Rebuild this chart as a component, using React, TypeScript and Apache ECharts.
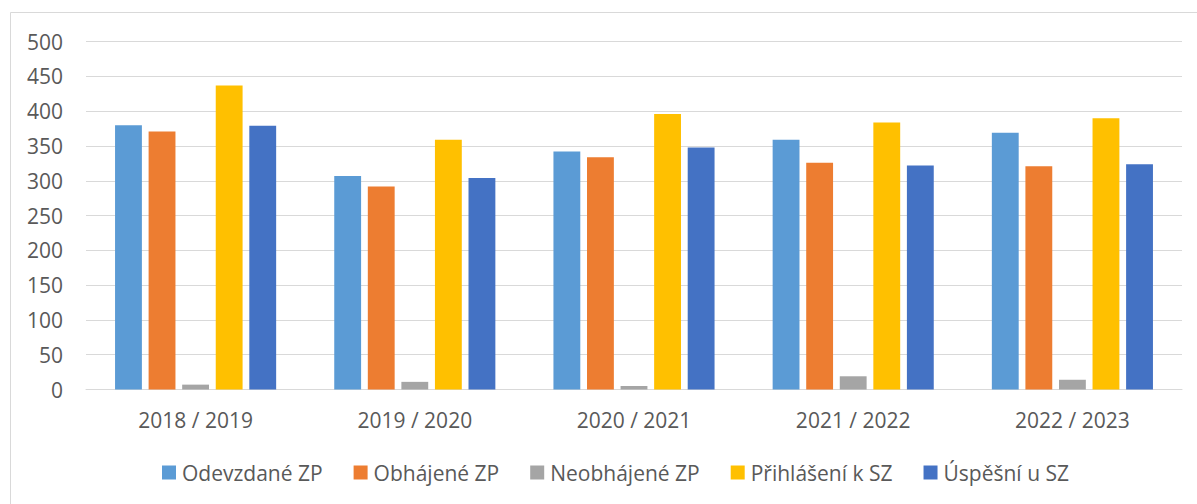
import React, { useEffect, useRef } from "react";
import * as echarts from "echarts";

const categories = ["2018 / 2019", "2019 / 2020", "2020 / 2021", "2021 / 2022", "2022 / 2023"];
const seriesNames = ["Odevzdané ZP", "Obhájené ZP", "Neobhájené ZP", "Přihlášení k SZ", "Úspěšní u SZ"];
const odevzdane = [380, 307, 342, 359, 369];
const obhajene = [371, 292, 334, 326, 321];
const neobhajene = [7, 11, 5, 19, 14];
const prihlaseni = [437, 359, 396, 384, 390];
const uspesni = [379, 304, 348, 322, 324];
const colors = ["#5B9BD5", "#ED7D31", "#A5A5A5", "#FFC000", "#4472C4"];

const FONT = "Open Sans";
const TEXT = "#595959";

export default function App() {
  const ref = useRef<HTMLDivElement>(null);
  useEffect(() => {
    if (!ref.current) return;
    const chart = echarts.init(ref.current, null, { renderer: "svg" });
    const data = [odevzdane, obhajene, neobhajene, prihlaseni, uspesni];
    chart.setOption({
      animation: false,
      backgroundColor: "#ffffff",
      graphic: [
        {
          type: "rect",
          shape: { x: 10.5, y: 12.5, width: 1400, height: 700 },
          style: { fill: "none", stroke: "#d9d9d9", lineWidth: 1 },
          silent: true,
        },
      ],
      grid: { left: 86, right: 15, top: 41.7, bottom: 504 - 389.5 },
      legend: {
        left: 157,
        top: 457,
        itemWidth: 14,
        itemHeight: 14,
        itemGap: 31,
        icon: "rect",
        textStyle: { fontFamily: FONT, fontSize: 21, color: TEXT, padding: [0, 0, 0, 1] },
        data: seriesNames,
      },
      xAxis: {
        type: "category",
        data: categories,
        axisLine: { lineStyle: { color: "#d9d9d9", width: 1 } },
        axisTick: { show: false },
        axisLabel: { fontFamily: FONT, fontSize: 21, color: TEXT, margin: 20 },
      },
      yAxis: {
        type: "value",
        min: 0,
        max: 500,
        interval: 50,
        axisLine: { show: false },
        axisTick: { show: false },
        splitLine: { lineStyle: { color: "#d9d9d9", width: 1 } },
        axisLabel: { fontFamily: FONT, fontSize: 21, color: TEXT, margin: 23 },
      },
      series: seriesNames.map((name, i) => ({
        name,
        type: "bar",
        data: data[i],
        barGap: "25%",
        barCategoryGap: "26.5%",
        itemStyle: { color: colors[i] },
      })),
    });
    return () => chart.dispose();
  }, []);
  return (
    <div
      ref={ref}
      style={{ position: "fixed", left: 0, top: 0, width: 1197, height: 504 }}
    />
  );
}
